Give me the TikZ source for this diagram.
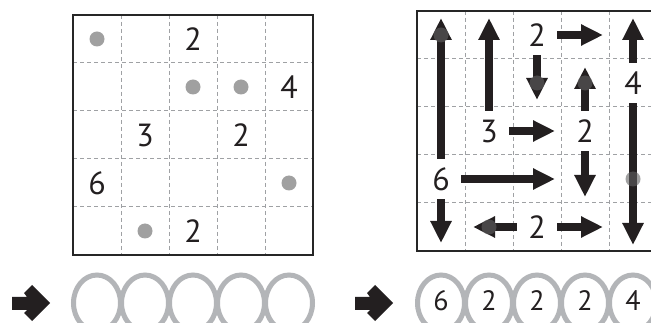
\documentclass[tikz,border=0pt]{standalone}
\usepackage{fontspec}
\setmainfont{PT Sans}
\usetikzlibrary{arrows.meta}
\definecolor{ink}{HTML}{231F20}
\definecolor{ringgray}{HTML}{B3B5B8}
\definecolor{linegray}{HTML}{9FA1A4}

\begin{document}
\begin{tikzpicture}[x=1pt, y=-1pt,
      num/.style={circle, inner sep=0pt, minimum size=40pt, text=ink,
        font=\fontsize{32}{32}\selectfont},
      small/.style={num, font=\fontsize{28}{28}\selectfont},
      dot/.style={circle, inner sep=0pt, minimum size=15pt, fill=black!62,
        fill opacity=0.6},
      gridline/.style={linegray, line width=1pt, dash pattern=on 4pt off 3pt},
      frame/.style={draw=black!85, line width=2pt},
      ring/.style={draw=ringgray, line width=5pt},
      arr/.style={draw=ink, line width=8pt, -{Triangle[width=20pt,length=22pt]}}]
    \clip (0,0) rectangle (651,323);
    \fill[white] (0,0) rectangle (651,323);

    \foreach \k in {1,...,4} {
      \draw[gridline] ({73+48*\k},15) -- ({73+48*\k},255);
      \draw[gridline] (73,{15+48*\k}) -- (313,{15+48*\k});
      \draw[gridline] ({417+48*\k},11) -- ({417+48*\k},251);
      \draw[gridline] (417,{11+48*\k}) -- (657,{11+48*\k});
    }
    \draw[frame] (73,15) rectangle (313,255);
    \draw[frame] (417,11) rectangle (657,251);

    \node[num] (a2)  at (193,39)  {2};
    \node[num] (a4)  at (289,87)  {4};
    \node[num] (a3)  at (145,135) {3};
    \node[num] (a2b) at (241,135) {2};
    \node[num] (a6)  at (97,183)  {6};
    \node[num] (a2c) at (193,231) {2};
    \node[dot] (ad1) at (97,39)   {};
    \node[dot] (ad2) at (193,87)  {};
    \node[dot] (ad3) at (241,87)  {};
    \node[dot] (ad4) at (289,183) {};
    \node[dot] (ad5) at (145,231) {};

    \node[num] (b2)  at (537,35)  {2};
    \node[num] (b4)  at (633,83)  {4};
    \node[num] (b3)  at (489,131) {3};
    \node[num] (b2b) at (585,131) {2};
    \node[num] (b6)  at (441,179) {6};
    \node[num] (b2c) at (537,227) {2};

    \coordinate (t6u) at (441,18);
    \coordinate (t6d) at (441,243);
    \coordinate (t6r) at (555,179);
    \coordinate (t3u) at (489,18);
    \coordinate (t3r) at (555,131);
    \coordinate (t2r) at (603,35);
    \coordinate (t2d) at (537,100);
    \coordinate (t2bu) at (585,67);
    \coordinate (t2bd) at (585,197);
    \coordinate (t4u) at (633,18);
    \coordinate (t4d) at (633,245);
    \coordinate (t2cl) at (473,227);
    \coordinate (t2cr) at (603,227);

    \draw[arr] (b6) -- (t6u);
    \draw[arr] (b6) -- (t6d);
    \draw[arr] (b6) -- (t6r);
    \draw[arr] (b3) -- (t3u);
    \draw[arr] (b3) -- (t3r);
    \draw[arr] (b2) -- (t2r);
    \draw[arr] (b2) -- (t2d);
    \draw[arr] (b2b) -- (t2bu);
    \draw[arr] (b2b) -- (t2bd);
    \draw[arr] (b4) -- (t4u);
    \draw[arr] (b4) -- (t4d);
    \draw[arr] (b2c) -- (t2cl);
    \draw[arr] (b2c) -- (t2cr);

    \node[dot] (bd1) at (441,35)  {};
    \node[dot] (bd2) at (537,83)  {};
    \node[dot] (bd3) at (585,83)  {};
    \node[dot] (bd4) at (633,179) {};
    \node[dot] (bd5) at (489,227) {};

    \fill[ink] (12,297) -- (27,297) -- (24,293) -- (32,285) -- (50,303)
      -- (32,321) -- (24,313) -- (27,310) -- (12,310) -- cycle;
    \fill[ink] (355,297) -- (370,297) -- (367,293) -- (375,285) -- (393,303)
      -- (375,321) -- (367,313) -- (370,310) -- (355,310) -- cycle;

    \foreach \c in {0,...,4} {
      \draw[ring] ({97+48*\c},303) ellipse [x radius=23.5, y radius=28];
      \draw[ring] ({441+48*\c},303) ellipse [x radius=23.5, y radius=28];
    }
    \node[small] (s1) at (441,301) {6};
    \node[small] (s2) at (489,301) {2};
    \node[small] (s3) at (537,301) {2};
    \node[small] (s4) at (585,301) {2};
    \node[small] (s5) at (633,301) {4};
  \end{tikzpicture}
\end{document}
